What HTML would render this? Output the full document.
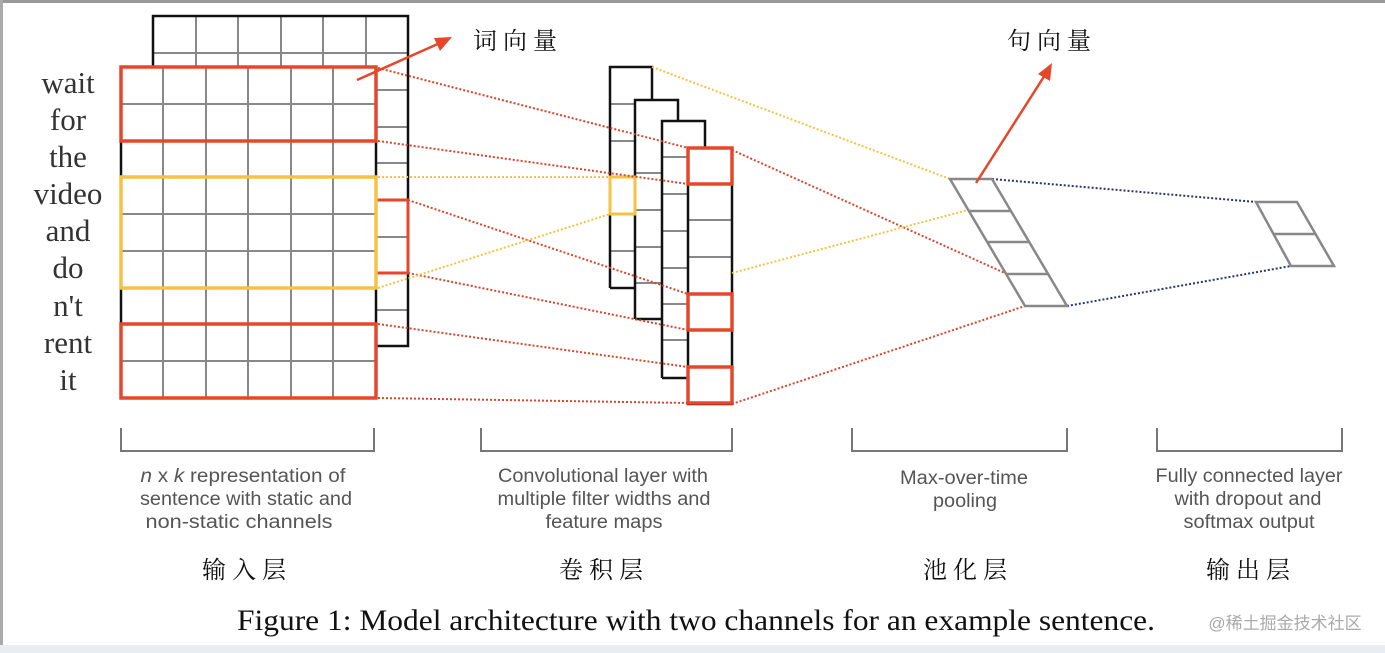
<!DOCTYPE html>
<html><head><meta charset="utf-8"><style>
html,body{margin:0;padding:0;background:#fff;}
svg{display:block;}
.w{font-family:"Liberation Serif","DejaVu Serif",serif;font-size:31px;fill:#333;text-anchor:middle;}
.d{font-family:"Liberation Sans",sans-serif;font-size:19px;fill:#555;text-anchor:middle;}
.c{font-family:"Liberation Serif","Noto Serif CJK SC",serif;font-size:24px;fill:#111;text-anchor:middle;letter-spacing:6px;}
</style></head><body>
<svg width="1385" height="653" viewBox="0 0 1385 653" xmlns="http://www.w3.org/2000/svg">
<rect x="0" y="0" width="1385" height="653" fill="#fff"/>
<line x1="0" y1="1.5" x2="1385" y2="1.5" stroke="#999" stroke-width="3"/>
<line x1="1.5" y1="0" x2="1.5" y2="653" stroke="#aaa" stroke-width="3"/>
<rect x="0" y="645" width="1385" height="8" fill="#e8edf3"/>

<g class="w">
<text x="68" y="93">wait</text><text x="68" y="130">for</text><text x="68" y="167">the</text>
<text x="68" y="204">video</text><text x="68" y="241">and</text><text x="68" y="278">do</text>
<text x="68" y="316">n't</text><text x="68" y="353">rent</text><text x="68" y="390">it</text>
</g>

<g stroke="#888" stroke-width="2" fill="none">
<line x1="153" y1="53" x2="408" y2="53"/>
<line x1="196" y1="16" x2="196" y2="67"/><line x1="238" y1="16" x2="238" y2="67"/>
<line x1="281" y1="16" x2="281" y2="67"/><line x1="323" y1="16" x2="323" y2="67"/>
<line x1="366" y1="16" x2="366" y2="67"/>
<line x1="376" y1="90" x2="408" y2="90"/><line x1="376" y1="127" x2="408" y2="127"/>
<line x1="376" y1="163" x2="408" y2="163"/><line x1="376" y1="237" x2="408" y2="237"/>
<line x1="376" y1="310" x2="408" y2="310"/>
</g>
<path d="M153 67 V16 H408 V346 H376" stroke="#111" stroke-width="2.5" fill="none"/>
<rect x="376" y="200" width="32" height="73" stroke="#e5472b" stroke-width="3" fill="none"/>

<g stroke="#888" stroke-width="2">
<line x1="163" y1="67" x2="163" y2="398"/><line x1="206" y1="67" x2="206" y2="398"/>
<line x1="248" y1="67" x2="248" y2="398"/><line x1="291" y1="67" x2="291" y2="398"/>
<line x1="333" y1="67" x2="333" y2="398"/>
<line x1="121" y1="104" x2="376" y2="104"/><line x1="121" y1="141" x2="376" y2="141"/>
<line x1="121" y1="214" x2="376" y2="214"/><line x1="121" y1="251" x2="376" y2="251"/>
<line x1="121" y1="361" x2="376" y2="361"/>
</g>
<rect x="121" y="67" width="255" height="331" stroke="#111" stroke-width="2.5" fill="none"/>
<rect x="121" y="67" width="255" height="74" stroke="#e5472b" stroke-width="3.5" fill="none"/>
<rect x="121" y="324" width="255" height="74" stroke="#e5472b" stroke-width="3.5" fill="none"/>
<rect x="121" y="177" width="255" height="111" stroke="#f5c242" stroke-width="3.5" fill="none"/>

<line x1="357" y1="80" x2="440" y2="43" stroke="#e5472b" stroke-width="2.5"/>
<polygon points="452,37 434,38 440,51" fill="#e5472b"/>
<text class="c" x="518" y="49">词向量</text>

<g stroke="#888" stroke-width="2">
<line x1="610" y1="104" x2="635" y2="104"/><line x1="610" y1="141" x2="635" y2="141"/>
<line x1="610" y1="251" x2="635" y2="251"/>
<line x1="635" y1="173" x2="662" y2="173"/><line x1="635" y1="210" x2="662" y2="210"/>
<line x1="635" y1="247" x2="662" y2="247"/><line x1="635" y1="283" x2="662" y2="283"/>
<line x1="662" y1="157" x2="688" y2="157"/><line x1="662" y1="194" x2="688" y2="194"/>
<line x1="662" y1="231" x2="688" y2="231"/><line x1="662" y1="268" x2="688" y2="268"/>
<line x1="662" y1="304" x2="688" y2="304"/><line x1="662" y1="340" x2="688" y2="340"/>
<line x1="688" y1="220" x2="732" y2="220"/><line x1="688" y1="257" x2="732" y2="257"/>
</g>
<g stroke="#111" stroke-width="2.5" fill="none">
<path d="M610 288 V67 H652 V100"/>
<path d="M610 288 H635"/>
<path d="M635 319 V100 H678 V121"/><path d="M635 319 H662"/>
<path d="M662 378 V121 H705 V148"/><path d="M662 378 H688"/>
<rect x="688" y="148" width="44" height="256"/>
</g>
<rect x="610" y="177" width="25" height="37" stroke="#f5c242" stroke-width="3" fill="none"/>
<g stroke="#e5472b" stroke-width="3.5" fill="none">
<rect x="688" y="148" width="44" height="36"/>
<rect x="688" y="294" width="44" height="36"/>
<rect x="688" y="367" width="44" height="36"/>
</g>

<g stroke="#d9452b" stroke-width="2" stroke-dasharray="2,2" fill="none">
<line x1="378" y1="68" x2="688" y2="148"/>
<line x1="378" y1="141" x2="688" y2="184"/>
<line x1="408" y1="200" x2="688" y2="294"/>
<line x1="408" y1="273" x2="688" y2="330"/>
<line x1="378" y1="324" x2="688" y2="367"/>
<line x1="378" y1="398" x2="688" y2="403"/>
<line x1="732" y1="150" x2="1007" y2="274"/>
<line x1="732" y1="404" x2="1025" y2="306"/>
</g>
<g stroke="#f5c242" stroke-width="2" stroke-dasharray="2,2" fill="none">
<line x1="378" y1="177" x2="610" y2="177"/>
<line x1="378" y1="288" x2="610" y2="214"/>
<line x1="652" y1="67" x2="950" y2="179"/>
<line x1="732" y1="273" x2="968" y2="210"/>
</g>
<g stroke="#2a3470" stroke-width="2" stroke-dasharray="2,2" fill="none">
<line x1="992" y1="179" x2="1256" y2="202"/>
<line x1="1067" y1="306" x2="1291" y2="266"/>
</g>

<g stroke="#888" stroke-width="2.5" fill="none">
<polygon points="950,179 992,179 1067,306 1025,306"/>
<line x1="969" y1="211" x2="1011" y2="211"/>
<line x1="987" y1="242" x2="1029" y2="242"/>
<line x1="1006" y1="274" x2="1048" y2="274"/>
<polygon points="1256,202 1297,202 1334,266 1291,266"/>
<line x1="1274" y1="234" x2="1315" y2="234"/>
</g>

<line x1="976" y1="183" x2="1045" y2="75" stroke="#e5472b" stroke-width="2.5"/>
<polygon points="1052,63 1038,74 1050,81" fill="#e5472b"/>
<text class="c" x="1052" y="49">句向量</text>

<g stroke="#777" stroke-width="2" fill="none">
<path d="M121 428 V451 H374 V428"/>
<path d="M481 428 V451 H732 V428"/>
<path d="M852 428 V451 H1067 V428"/>
<path d="M1157 428 V451 H1342 V428"/>
</g>

<g class="d">
<text x="243" y="482" textLength="205" lengthAdjust="spacingAndGlyphs"><tspan font-style="italic">n</tspan> x <tspan font-style="italic">k</tspan> representation of</text>
<text x="246" y="505" textLength="212" lengthAdjust="spacingAndGlyphs">sentence with static and</text>
<text x="239" y="528" textLength="187" lengthAdjust="spacingAndGlyphs">non-static channels</text>
<text x="603" y="482" textLength="210" lengthAdjust="spacingAndGlyphs">Convolutional layer with</text>
<text x="604" y="505" textLength="213" lengthAdjust="spacingAndGlyphs">multiple filter widths and</text>
<text x="604" y="528" textLength="117" lengthAdjust="spacingAndGlyphs">feature maps</text>
<text x="964" y="484" textLength="128" lengthAdjust="spacingAndGlyphs">Max-over-time</text>
<text x="965" y="507" textLength="64" lengthAdjust="spacingAndGlyphs">pooling</text>
<text x="1249" y="482" textLength="187" lengthAdjust="spacingAndGlyphs">Fully connected layer</text>
<text x="1248" y="505" textLength="147" lengthAdjust="spacingAndGlyphs">with dropout and</text>
<text x="1249" y="528" textLength="131" lengthAdjust="spacingAndGlyphs">softmax output</text>
</g>

<g class="c">
<text x="247" y="578">输入层</text>
<text x="604" y="578">卷积层</text>
<text x="968" y="578">池化层</text>
<text x="1251" y="578">输出层</text>
</g>

<text x="237" y="630" font-family="Liberation Serif, serif" font-size="30" fill="#111" textLength="918" lengthAdjust="spacingAndGlyphs">Figure 1: Model architecture with two channels for an example sentence.</text>
<text x="1285" y="629" font-family="Liberation Sans, Noto Sans CJK SC, sans-serif" font-size="17" fill="#aaa" text-anchor="middle">@稀土掘金技术社区</text>
</svg>
</body></html>
